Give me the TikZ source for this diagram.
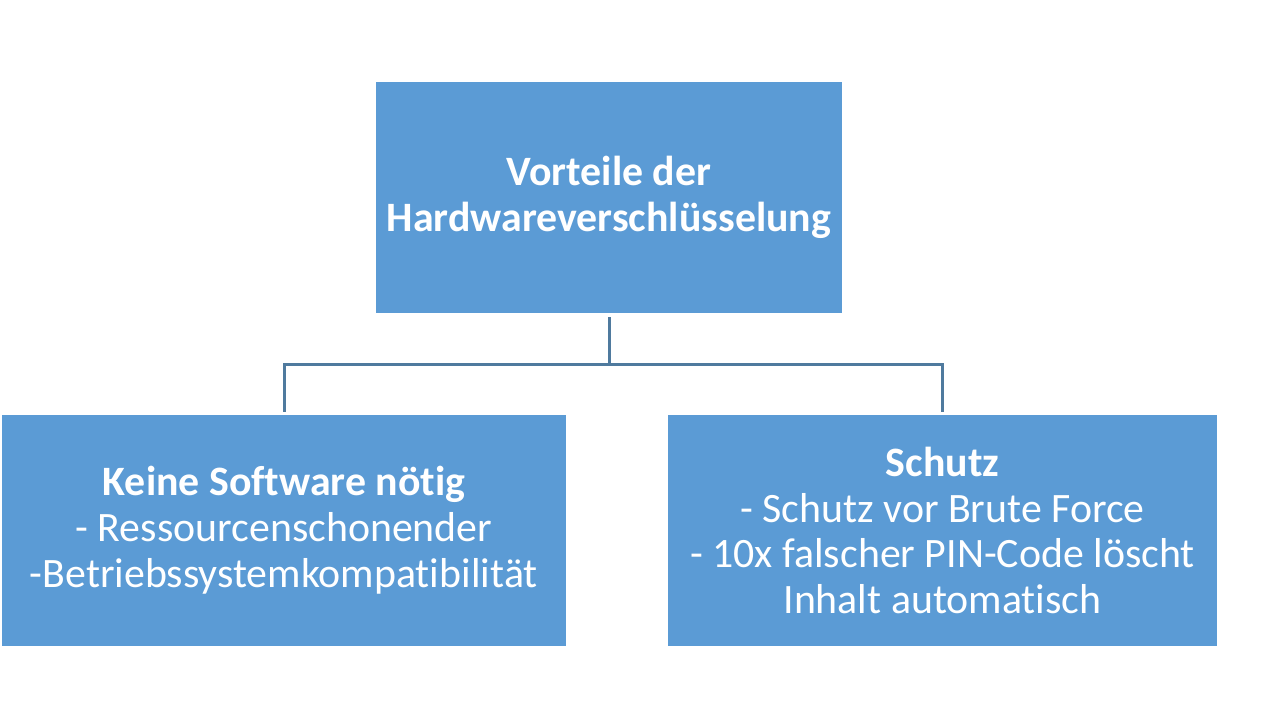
\documentclass[tikz,border=0pt]{standalone}
\usepackage{fontspec}
\setmainfont[RawFeature={-liga;-clig;-calt;-dlig}]{Carlito}
\definecolor{boxfill}{HTML}{5B9BD5}
\definecolor{linecol}{HTML}{4F7A9E}
\newcommand{\nl}{\kern0pt}
\begin{document}
\begin{tikzpicture}[x=1bp,y=-1bp,
  box/.style={fill=boxfill,draw=none,text=white,align=center,inner sep=0pt,
    font=\fontsize{42}{46}\selectfont},
  conn/.style={draw=linecol,line width=3bp}]
\useasboundingbox (0,0) rectangle (1280,720);
\node[box,minimum width=466bp,minimum height=231bp] (top) at (609,197.5)
  {\textbf{Vorteile der}\\\textbf{Hardwareverschlüsselung}};
\node[box,minimum width=564bp,minimum height=231bp] (left) at (284,530.5)
  {\textbf{Keine Software nöt\nl ig}\\- Ressourcenschonender\\-Betriebssystemkompat\nl ibilit\nl ät};
\node[box,minimum width=549bp,minimum height=231bp] (right) at (942.5,530.5)
  {\textbf{Schutz}\\- Schutz vor Brute Force\\- 10x falscher PIN-Code löscht\\Inhalt automat\nl isch};
\coordinate (bus) at (609,364);
\draw[conn] ([yshift=-4bp]top.south) -- (bus);
\draw[conn] ([yshift=3bp]left.north) -- (left.north |- bus) -- (right.north |- bus) -- ([yshift=3bp]right.north);
\end{tikzpicture}
\end{document}
